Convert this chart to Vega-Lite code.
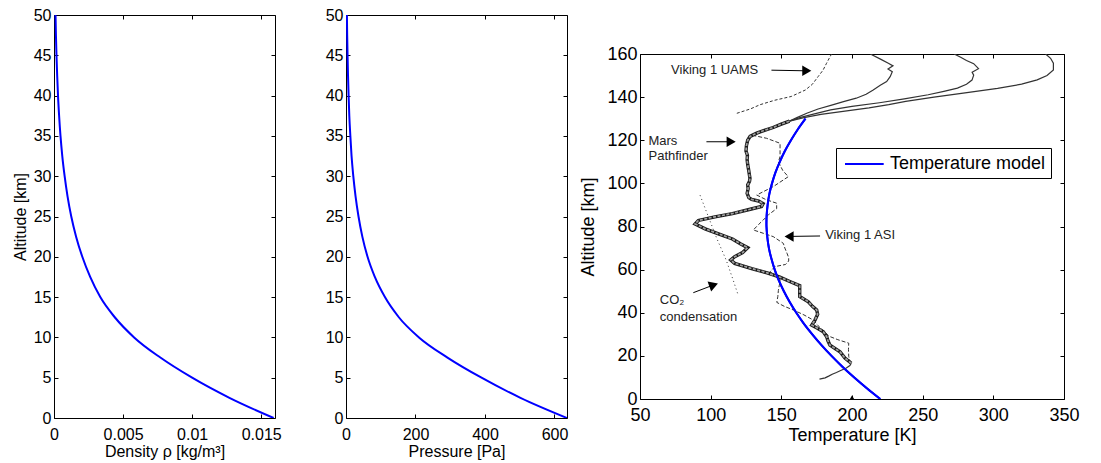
{
  "$schema": "https://vega.github.io/schema/vega-lite/v6.json",
  "padding": {"left": 11, "top": 6, "right": 5, "bottom": 5},
  "background": "white",
  "datasets": {
    "density": [
      {"h": 0, "rho": 0.0159}, {"h": 2.5, "rho": 0.0127}, {"h": 5, "rho": 0.0100}, {"h": 7.5, "rho": 0.0077},
      {"h": 10, "rho": 0.0058}, {"h": 12.5, "rho": 0.0044}, {"h": 15, "rho": 0.00335}, {"h": 17.5, "rho": 0.00262},
      {"h": 20, "rho": 0.00205}, {"h": 22.5, "rho": 0.0016}, {"h": 25, "rho": 0.00125}, {"h": 27.5, "rho": 0.00098},
      {"h": 30, "rho": 0.00077}, {"h": 32.5, "rho": 0.0006}, {"h": 35, "rho": 0.00047}, {"h": 37.5, "rho": 0.00037},
      {"h": 40, "rho": 0.00029}, {"h": 42.5, "rho": 0.00023}, {"h": 45, "rho": 0.00018}, {"h": 47.5, "rho": 0.00014},
      {"h": 50, "rho": 0.00011}
    ],
    "pressure": [
      {"h": 0, "p": 636}, {"h": 2.5, "p": 502}, {"h": 5, "p": 390}, {"h": 7.5, "p": 292}, {"h": 10, "p": 210},
      {"h": 12.5, "p": 152}, {"h": 15, "p": 112}, {"h": 17.5, "p": 83}, {"h": 20, "p": 62}, {"h": 22.5, "p": 47},
      {"h": 25, "p": 36}, {"h": 27.5, "p": 27.5}, {"h": 30, "p": 21}, {"h": 32.5, "p": 16}, {"h": 35, "p": 12.5},
      {"h": 37.5, "p": 9.5}, {"h": 40, "p": 7.5}, {"h": 42.5, "p": 5.8}, {"h": 45, "p": 4.5}, {"h": 47.5, "p": 3.4},
      {"h": 50, "p": 2.6}
    ],
    "model": [
      {"h": 0, "T": 220.0}, {"h": 5, "T": 210.5}, {"h": 10, "T": 201.6}, {"h": 15, "T": 193.2}, {"h": 20, "T": 185.5},
      {"h": 25, "T": 178.4}, {"h": 30, "T": 171.9}, {"h": 35, "T": 165.9}, {"h": 40, "T": 160.6}, {"h": 45, "T": 155.9},
      {"h": 50, "T": 151.8}, {"h": 55, "T": 148.2}, {"h": 60, "T": 145.3}, {"h": 65, "T": 143.0}, {"h": 70, "T": 141.2},
      {"h": 75, "T": 140.1}, {"h": 80, "T": 139.5}, {"h": 85, "T": 139.6}, {"h": 90, "T": 140.3}, {"h": 95, "T": 141.5},
      {"h": 100, "T": 143.4}, {"h": 105, "T": 145.8}, {"h": 110, "T": 148.9}, {"h": 115, "T": 152.5}, {"h": 120, "T": 156.8},
      {"h": 125, "T": 161.6}, {"h": 130, "T": 167.1}
    ],
    "obs": [
      {"s": "PFlow", "h": 9.2, "T": 177}, {"s": "PFlow", "h": 9.8, "T": 181}, {"s": "PFlow", "h": 10.6, "T": 183.5},
      {"s": "PFlow", "h": 11.5, "T": 186}, {"s": "PFlow", "h": 12.3, "T": 189}, {"s": "PFlow", "h": 13.2, "T": 192},
      {"s": "PFlow", "h": 14.4, "T": 196}, {"s": "PFlow", "h": 15.5, "T": 198.5}, {"s": "PFlow", "h": 16.6, "T": 199.5},

      {"s": "PF", "h": 16.6, "T": 199.5}, {"s": "PF", "h": 19, "T": 195}, {"s": "PF", "h": 21.9, "T": 191.5},
      {"s": "PF", "h": 25, "T": 184.4}, {"s": "PF", "h": 27, "T": 183}, {"s": "PF", "h": 28.9, "T": 182.1},
      {"s": "PF", "h": 31.2, "T": 179.7}, {"s": "PF", "h": 33, "T": 175}, {"s": "PF", "h": 34.3, "T": 171.5},
      {"s": "PF", "h": 36.6, "T": 173.8}, {"s": "PF", "h": 39.3, "T": 175.7}, {"s": "PF", "h": 41.3, "T": 175},
      {"s": "PF", "h": 43, "T": 172}, {"s": "PF", "h": 45.1, "T": 169.1}, {"s": "PF", "h": 47.5, "T": 163},
      {"s": "PF", "h": 48.7, "T": 163}, {"s": "PF", "h": 52.6, "T": 163}, {"s": "PF", "h": 54.5, "T": 156},
      {"s": "PF", "h": 56.5, "T": 149}, {"s": "PF", "h": 58.5, "T": 140}, {"s": "PF", "h": 60.5, "T": 129},
      {"s": "PF", "h": 62.9, "T": 117}, {"s": "PF", "h": 64.5, "T": 114.2}, {"s": "PF", "h": 66, "T": 117},
      {"s": "PF", "h": 67.9, "T": 122.6}, {"s": "PF", "h": 70.2, "T": 126.2}, {"s": "PF", "h": 72, "T": 121},
      {"s": "PF", "h": 74.2, "T": 115.4}, {"s": "PF", "h": 76.5, "T": 106}, {"s": "PF", "h": 78.9, "T": 96.1},
      {"s": "PF", "h": 81.2, "T": 89}, {"s": "PF", "h": 82.8, "T": 91.3}, {"s": "PF", "h": 84.5, "T": 103},
      {"s": "PF", "h": 86, "T": 115.4}, {"s": "PF", "h": 88, "T": 128}, {"s": "PF", "h": 89.3, "T": 136},
      {"s": "PF", "h": 90.6, "T": 137.1}, {"s": "PF", "h": 91.8, "T": 134}, {"s": "PF", "h": 92.6, "T": 129},
      {"s": "PF", "h": 93.4, "T": 127}, {"s": "PF", "h": 95.4, "T": 125.8}, {"s": "PF", "h": 97.5, "T": 126.5},
      {"s": "PF", "h": 99.3, "T": 126.2}, {"s": "PF", "h": 101, "T": 127.5}, {"s": "PF", "h": 102.4, "T": 127.8},
      {"s": "PF", "h": 104.8, "T": 127.2}, {"s": "PF", "h": 106.5, "T": 126.8}, {"s": "PF", "h": 108.7, "T": 126.2},
      {"s": "PF", "h": 111, "T": 125.8}, {"s": "PF", "h": 113, "T": 126}, {"s": "PF", "h": 115, "T": 125},
      {"s": "PF", "h": 117.5, "T": 125.3}, {"s": "PF", "h": 120, "T": 126.2}, {"s": "PF", "h": 121.8, "T": 127.9},
      {"s": "PF", "h": 123.3, "T": 132.6}, {"s": "PF", "h": 124.6, "T": 138}, {"s": "PF", "h": 125.9, "T": 144.2},
      {"s": "PF", "h": 127.5, "T": 150}, {"s": "PF", "h": 128.9, "T": 155.8},

      {"s": "PF1", "h": 128.9, "T": 155.8}, {"s": "PF1", "h": 130.5, "T": 161}, {"s": "PF1", "h": 132.5, "T": 168},
      {"s": "PF1", "h": 134.5, "T": 176}, {"s": "PF1", "h": 136.2, "T": 185}, {"s": "PF1", "h": 137.9, "T": 194},
      {"s": "PF1", "h": 139.5, "T": 203}, {"s": "PF1", "h": 141.3, "T": 210}, {"s": "PF1", "h": 143.3, "T": 215},
      {"s": "PF1", "h": 145.5, "T": 220}, {"s": "PF1", "h": 147.2, "T": 224.5}, {"s": "PF1", "h": 149.5, "T": 227},
      {"s": "PF1", "h": 151.8, "T": 228.5}, {"s": "PF1", "h": 153, "T": 225.5}, {"s": "PF1", "h": 154.5, "T": 229},
      {"s": "PF1", "h": 155.7, "T": 225.7}, {"s": "PF1", "h": 157.5, "T": 220.5}, {"s": "PF1", "h": 160, "T": 213},

      {"s": "PF2", "h": 128.9, "T": 155.8}, {"s": "PF2", "h": 130.5, "T": 163}, {"s": "PF2", "h": 132, "T": 172},
      {"s": "PF2", "h": 134.1, "T": 184.9}, {"s": "PF2", "h": 135.7, "T": 200}, {"s": "PF2", "h": 137.4, "T": 219.4},
      {"s": "PF2", "h": 139.2, "T": 237}, {"s": "PF2", "h": 141.1, "T": 253.9}, {"s": "PF2", "h": 142.7, "T": 265},
      {"s": "PF2", "h": 144.2, "T": 274.6}, {"s": "PF2", "h": 146, "T": 281}, {"s": "PF2", "h": 147.9, "T": 284.9},
      {"s": "PF2", "h": 150.2, "T": 286.1}, {"s": "PF2", "h": 151.5, "T": 285}, {"s": "PF2", "h": 153.2, "T": 289.5},
      {"s": "PF2", "h": 155.5, "T": 286.1}, {"s": "PF2", "h": 157, "T": 281}, {"s": "PF2", "h": 158.5, "T": 276.9},
      {"s": "PF2", "h": 160, "T": 272.3},

      {"s": "PF3", "h": 128.9, "T": 155.8}, {"s": "PF3", "h": 130.5, "T": 166}, {"s": "PF3", "h": 132, "T": 178},
      {"s": "PF3", "h": 133.5, "T": 195}, {"s": "PF3", "h": 135, "T": 212}, {"s": "PF3", "h": 136.5, "T": 226},
      {"s": "PF3", "h": 138, "T": 238}, {"s": "PF3", "h": 140, "T": 258}, {"s": "PF3", "h": 142, "T": 280},
      {"s": "PF3", "h": 144.1, "T": 303}, {"s": "PF3", "h": 146, "T": 320}, {"s": "PF3", "h": 148, "T": 331},
      {"s": "PF3", "h": 150, "T": 338}, {"s": "PF3", "h": 152.6, "T": 342.5}, {"s": "PF3", "h": 155.7, "T": 342.5},
      {"s": "PF3", "h": 158, "T": 340.5}, {"s": "PF3", "h": 160, "T": 337},

      {"s": "ASI", "h": 16.5, "T": 199}, {"s": "ASI", "h": 19.7, "T": 197.7}, {"s": "ASI", "h": 23, "T": 197.5},
      {"s": "ASI", "h": 25.9, "T": 197.7}, {"s": "ASI", "h": 27.5, "T": 190}, {"s": "ASI", "h": 29.1, "T": 183.8},
      {"s": "ASI", "h": 31.5, "T": 180}, {"s": "ASI", "h": 34, "T": 176}, {"s": "ASI", "h": 36.6, "T": 172.6},
      {"s": "ASI", "h": 39, "T": 166}, {"s": "ASI", "h": 41.3, "T": 158.5}, {"s": "ASI", "h": 43, "T": 152},
      {"s": "ASI", "h": 44.8, "T": 146.8}, {"s": "ASI", "h": 47.5, "T": 147.5}, {"s": "ASI", "h": 50.3, "T": 147.9},
      {"s": "ASI", "h": 52.5, "T": 148.5}, {"s": "ASI", "h": 54.4, "T": 149.1}, {"s": "ASI", "h": 55.8, "T": 149},
      {"s": "ASI", "h": 57.5, "T": 145}, {"s": "ASI", "h": 59, "T": 142}, {"s": "ASI", "h": 61.4, "T": 145.5},
      {"s": "ASI", "h": 62.4, "T": 153}, {"s": "ASI", "h": 64, "T": 155.2}, {"s": "ASI", "h": 65.5, "T": 155.2},
      {"s": "ASI", "h": 67.6, "T": 154}, {"s": "ASI", "h": 70, "T": 152.5}, {"s": "ASI", "h": 72.2, "T": 151.4},
      {"s": "ASI", "h": 75.3, "T": 144.3}, {"s": "ASI", "h": 78.4, "T": 130.2}, {"s": "ASI", "h": 81, "T": 134},
      {"s": "ASI", "h": 83, "T": 137.2}, {"s": "ASI", "h": 85.5, "T": 141}, {"s": "ASI", "h": 88.3, "T": 146.7},
      {"s": "ASI", "h": 90.8, "T": 146.7}, {"s": "ASI", "h": 92.5, "T": 139}, {"s": "ASI", "h": 94.6, "T": 132.6},
      {"s": "ASI", "h": 98.5, "T": 144.3}, {"s": "ASI", "h": 103.1, "T": 154.9}, {"s": "ASI", "h": 106, "T": 151},
      {"s": "ASI", "h": 110, "T": 147.9}, {"s": "ASI", "h": 112.4, "T": 149.1}, {"s": "ASI", "h": 115.5, "T": 149.1},
      {"s": "ASI", "h": 118.6, "T": 149.1}, {"s": "ASI", "h": 120.9, "T": 139.6}, {"s": "ASI", "h": 122.4, "T": 129},

      {"s": "UAMS", "h": 132.5, "T": 118.5}, {"s": "UAMS", "h": 134.5, "T": 128}, {"s": "UAMS", "h": 136.5, "T": 135},
      {"s": "UAMS", "h": 138.5, "T": 145}, {"s": "UAMS", "h": 140.3, "T": 157}, {"s": "UAMS", "h": 143.3, "T": 167},
      {"s": "UAMS", "h": 146, "T": 172}, {"s": "UAMS", "h": 149.5, "T": 176}, {"s": "UAMS", "h": 152.5, "T": 179.5},
      {"s": "UAMS", "h": 155.7, "T": 182}, {"s": "UAMS", "h": 160, "T": 185.5},

      {"s": "CO2", "h": 94.5, "T": 92.5}, {"s": "CO2", "h": 74.5, "T": 104.3}, {"s": "CO2", "h": 64.4, "T": 111},
      {"s": "CO2", "h": 55, "T": 116}, {"s": "CO2", "h": 47.9, "T": 119.6}
    ],
    "labels": [
      {"T": 72, "h": 152.5, "text": "Viking 1 UAMS"},
      {"T": 56, "h": 119.8, "text": "Mars"},
      {"T": 56, "h": 112.6, "text": "Pathfinder"},
      {"T": 181, "h": 76.2, "text": "Viking 1 ASI"},
      {"T": 64, "h": 45.9, "text": "CO₂"},
      {"T": 64, "h": 38.2, "text": "condensation"}
    ],
    "shafts": [
      {"name": "UAMS", "T1": 143, "h1": 152.5, "T2": 168, "h2": 152.2},
      {"name": "Mars", "T1": 97, "h1": 119.3, "T2": 114.5, "h2": 119.3},
      {"name": "ASI", "T1": 177.4, "h1": 75.6, "T2": 155.5, "h2": 75.4},
      {"name": "CO2", "T1": 87.7, "h1": 49.3, "T2": 102.1, "h2": 52.9}
    ],
    "heads": [
      {"name": "UAMS", "T": 168, "h": 152.2},
      {"name": "Mars", "T": 114.5, "h": 119.3},
      {"name": "ASI", "T": 155.5, "h": 75.4},
      {"name": "CO2", "T": 102.1, "h": 52.9},
      {"name": "ground", "T": 200, "h": 0.8}
    ]
  },
  "hconcat": [
    {
      "hconcat": [
        {
          "width": 221, "height": 403,
          "data": {"name": "density"},
          "layer": [
            {
              "mark": {"type": "line", "color": "#0000ff", "strokeWidth": 2, "interpolate": "monotone", "clip": true},
              "encoding": {
                "x": {"field": "rho", "type": "quantitative", "scale": {"domain": [0, 0.016], "nice": false, "zero": false},
                      "axis": {"orient": "bottom", "values": [0, 0.005, 0.01, 0.015], "format": "~g", "title": "Density ρ [kg/m³]",
                               "labelFontSize": 16, "titleFontSize": 16, "labelPadding": 12, "titlePadding": 1}},
                "y": {"field": "h", "type": "quantitative", "scale": {"domain": [0, 50], "nice": false},
                      "axis": {"orient": "left", "values": [0, 5, 10, 15, 20, 25, 30, 35, 40, 45, 50], "title": "Altitude [km]",
                               "labelFontSize": 16, "titleFontSize": 16, "labelPadding": 7, "titlePadding": 5}}
              }
            },
            {
              "mark": {"type": "point", "opacity": 0},
              "encoding": {
                "x": {"field": "rho", "type": "quantitative", "axis": {"orient": "top", "labels": false, "title": null, "values": [0, 0.005, 0.01, 0.015]}},
                "y": {"field": "h", "type": "quantitative", "axis": {"orient": "right", "labels": false, "title": null, "values": [0, 5, 10, 15, 20, 25, 30, 35, 40, 45, 50]}}
              }
            }
          ],
          "resolve": {"axis": {"x": "independent", "y": "independent"}}
        },
        {
          "width": 221, "height": 403,
          "data": {"name": "pressure"},
          "layer": [
            {
              "mark": {"type": "line", "color": "#0000ff", "strokeWidth": 2, "interpolate": "monotone", "clip": true},
              "encoding": {
                "x": {"field": "p", "type": "quantitative", "scale": {"domain": [0, 636], "nice": false, "zero": false},
                      "axis": {"orient": "bottom", "values": [0, 200, 400, 600], "title": "Pressure [Pa]",
                               "labelFontSize": 16, "titleFontSize": 16, "labelPadding": 12, "titlePadding": 1}},
                "y": {"field": "h", "type": "quantitative", "scale": {"domain": [0, 50], "nice": false},
                      "axis": {"orient": "left", "values": [0, 5, 10, 15, 20, 25, 30, 35, 40, 45, 50], "title": null,
                               "labelFontSize": 16, "labelPadding": 7}}
              }
            },
            {
              "mark": {"type": "point", "opacity": 0},
              "encoding": {
                "x": {"field": "p", "type": "quantitative", "axis": {"orient": "top", "labels": false, "title": null, "values": [0, 200, 400, 600]}},
                "y": {"field": "h", "type": "quantitative", "axis": {"orient": "right", "labels": false, "title": null, "values": [0, 5, 10, 15, 20, 25, 30, 35, 40, 45, 50]}}
              }
            }
          ],
          "resolve": {"axis": {"x": "independent", "y": "independent"}}
        }
      ],
      "spacing": 42
    },
    {
      "vconcat": [
        {
          "width": 10, "height": 29,
          "data": {"values": [{}]},
          "mark": {"type": "point", "opacity": 0},
          "encoding": {},
          "view": {"stroke": null}
        },
        {
          "width": 424, "height": 345,
          "layer": [
            {
              "data": {"name": "model"},
              "mark": {"type": "line", "strokeWidth": 2, "interpolate": "catmull-rom", "clip": true},
              "encoding": {
                "x": {"field": "T", "type": "quantitative", "scale": {"domain": [50, 350], "nice": false, "zero": false},
                      "axis": {"orient": "bottom", "values": [50, 100, 150, 200, 250, 300, 350], "title": "Temperature [K]",
                               "labelFontSize": 18, "titleFontSize": 18, "labelPadding": 11, "titlePadding": 2}},
                "y": {"field": "h", "type": "quantitative", "scale": {"domain": [0, 160], "nice": false},
                      "axis": {"orient": "left", "values": [0, 20, 40, 60, 80, 100, 120, 140, 160], "title": "Altitude [km]",
                               "labelFontSize": 18, "titleFontSize": 18, "labelPadding": 7, "titlePadding": 9}},
                "color": {"datum": "Temperature model", "type": "nominal", "scale": {"range": ["#0000ff"]},
                          "legend": {"orient": "none", "legendX": 196, "legendY": 94, "title": null, "labelFontSize": 18,
                                     "labelColor": "black", "symbolType": "M-0.7,0H3.17", "symbolSize": 400, "symbolStrokeWidth": 2,
                                     "strokeColor": "black", "fillColor": "white", "padding": 5, "labelOffset": 27}},
                "order": {"value": null}
              }
            },
            {
              "data": {"name": "model"},
              "mark": {"type": "point", "opacity": 0},
              "encoding": {
                "x": {"field": "T", "type": "quantitative", "axis": {"orient": "top", "labels": false, "title": null, "values": [50, 100, 150, 200, 250, 300, 350]}},
                "y": {"field": "h", "type": "quantitative", "axis": {"orient": "right", "labels": false, "title": null, "values": [0, 20, 40, 60, 80, 100, 120, 140, 160]}}
              }
            },
            {
              "data": {"name": "obs"},
              "transform": [{"filter": "datum.s === 'CO2'"}],
              "mark": {"type": "line", "color": "#333333", "strokeWidth": 1, "strokeDash": [1, 3], "clip": true},
              "encoding": {
                "x": {"field": "T", "type": "quantitative", "axis": null},
                "y": {"field": "h", "type": "quantitative", "axis": null},
                "order": {"value": null}
              }
            },
            {
              "data": {"name": "obs"},
              "transform": [{"filter": "datum.s === 'ASI'"}],
              "mark": {"type": "line", "color": "#333333", "strokeWidth": 1, "strokeDash": [4, 2], "clip": true},
              "encoding": {
                "x": {"field": "T", "type": "quantitative", "axis": null},
                "y": {"field": "h", "type": "quantitative", "axis": null},
                "order": {"value": null}
              }
            },
            {
              "data": {"name": "obs"},
              "transform": [{"filter": "datum.s === 'UAMS'"}],
              "mark": {"type": "line", "color": "#333333", "strokeWidth": 1, "strokeDash": [3, 2], "clip": true},
              "encoding": {
                "x": {"field": "T", "type": "quantitative", "axis": null},
                "y": {"field": "h", "type": "quantitative", "axis": null},
                "order": {"value": null}
              }
            },
            {
              "data": {"name": "obs"},
              "transform": [{"filter": "datum.s === 'PF1' || datum.s === 'PF2' || datum.s === 'PF3' || datum.s === 'PFlow'"}],
              "mark": {"type": "line", "color": "#333333", "strokeWidth": 1.2, "clip": true},
              "encoding": {
                "x": {"field": "T", "type": "quantitative", "axis": null},
                "y": {"field": "h", "type": "quantitative", "axis": null},
                "detail": {"field": "s", "type": "nominal"},
                "order": {"value": null}
              }
            },
            {
              "data": {"name": "obs"},
              "transform": [{"filter": "datum.s === 'PF'"}],
              "mark": {"type": "line", "color": "#1a1a1a", "strokeWidth": 3.4, "clip": true},
              "encoding": {
                "x": {"field": "T", "type": "quantitative", "axis": null},
                "y": {"field": "h", "type": "quantitative", "axis": null},
                "order": {"value": null}
              }
            },
            {
              "data": {"name": "obs"},
              "transform": [{"filter": "datum.s === 'PF'"}],
              "mark": {"type": "line", "color": "#a0a0a0", "strokeWidth": 1.7, "strokeDash": [3, 1.5], "clip": true},
              "encoding": {
                "x": {"field": "T", "type": "quantitative", "axis": null},
                "y": {"field": "h", "type": "quantitative", "axis": null},
                "order": {"value": null}
              }
            },
            {
              "data": {"name": "model"},
              "mark": {"type": "line", "color": "#0000ff", "strokeWidth": 2, "interpolate": "catmull-rom", "clip": true},
              "encoding": {
                "x": {"field": "T", "type": "quantitative", "axis": null},
                "y": {"field": "h", "type": "quantitative", "axis": null},
                "order": {"value": null}
              }
            },
            {
              "data": {"name": "labels"},
              "mark": {"type": "text", "align": "left", "baseline": "middle", "fontSize": 13, "color": "#222222", "font": "Liberation Sans"},
              "encoding": {
                "x": {"field": "T", "type": "quantitative", "axis": null},
                "y": {"field": "h", "type": "quantitative", "axis": null},
                "text": {"field": "text"}
              }
            },
            {
              "data": {"name": "shafts"},
              "mark": {"type": "rule", "color": "black", "strokeWidth": 1},
              "encoding": {
                "x": {"field": "T1", "type": "quantitative", "axis": null},
                "x2": {"field": "T2"},
                "y": {"field": "h1", "type": "quantitative", "axis": null},
                "y2": {"field": "h2"}
              }
            },
            {
              "data": {"name": "heads"},
              "transform": [{"filter": "datum.name === 'UAMS' || datum.name === 'Mars'"}],
              "mark": {"type": "point", "shape": "triangle-right", "filled": true, "color": "black", "opacity": 1, "size": 110},
              "encoding": {
                "x": {"field": "T", "type": "quantitative", "axis": null},
                "y": {"field": "h", "type": "quantitative", "axis": null}
              }
            },
            {
              "data": {"name": "heads"},
              "transform": [{"filter": "datum.name === 'ASI'"}],
              "mark": {"type": "point", "shape": "triangle-left", "filled": true, "color": "black", "opacity": 1, "size": 110},
              "encoding": {
                "x": {"field": "T", "type": "quantitative", "axis": null},
                "y": {"field": "h", "type": "quantitative", "axis": null}
              }
            },
            {
              "data": {"name": "heads"},
              "transform": [{"filter": "datum.name === 'CO2'"}],
              "mark": {"type": "point", "shape": "triangle-right", "filled": true, "color": "black", "opacity": 1, "size": 110, "angle": 340},
              "encoding": {
                "x": {"field": "T", "type": "quantitative", "axis": null},
                "y": {"field": "h", "type": "quantitative", "axis": null}
              }
            },
            {
              "data": {"name": "heads"},
              "transform": [{"filter": "datum.name === 'ground'"}],
              "mark": {"type": "point", "shape": "triangle-up", "filled": true, "color": "black", "opacity": 1, "size": 18},
              "encoding": {
                "x": {"field": "T", "type": "quantitative", "axis": null},
                "y": {"field": "h", "type": "quantitative", "axis": null}
              }
            }
          ],
          "resolve": {"axis": {"x": "independent", "y": "independent"}}
        }
      ],
      "spacing": 0,
      "resolve": {"legend": {"color": "independent"}, "scale": {"color": "independent"}}
    }
  ],
  "spacing": 8,
  "resolve": {"legend": {"color": "independent"}, "scale": {"color": "independent"}},
  "config": {
    "font": "Liberation Sans",
    "view": {"stroke": "black", "strokeWidth": 1},
    "axis": {
      "grid": false, "domain": false, "tickColor": "black", "tickSize": -4, "tickWidth": 1,
      "labelColor": "black", "titleColor": "black", "titleFontWeight": "normal", "labelFlush": false,
      "labelFont": "Liberation Sans", "titleFont": "Liberation Sans", "labelOverlap": false
    },
    "legend": {"labelFont": "Liberation Sans", "strokeWidth": 1}
  }
}
